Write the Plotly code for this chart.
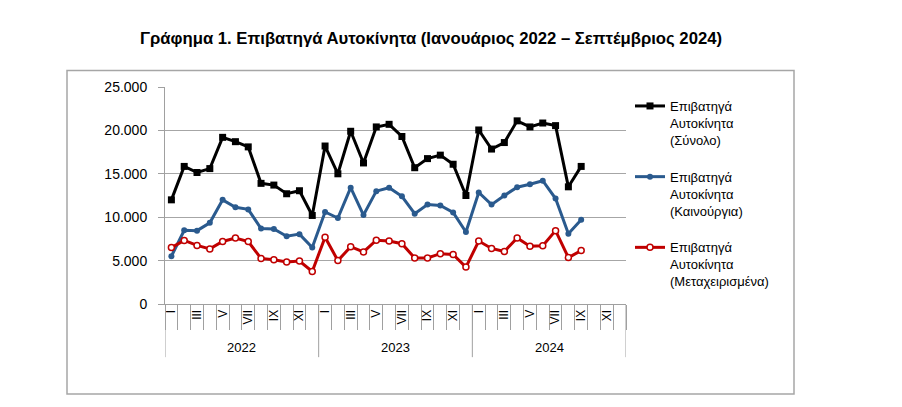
import plotly.graph_objects as go

years = ["2022", "2023", "2024"]
months = ["I", "II", "III", "IV", "V", "VI", "VII", "VIII", "IX", "X", "XI", "XII"]
shown_months = ["I", "III", "V", "VII", "IX", "XI"]

total = [12000, 15850, 15150, 15600, 19200, 18700, 18100, 13900, 13700, 12700, 13050, 10200,
         18200, 15000, 19900, 16250, 20400, 20700, 19300, 15700, 16750, 17150, 16100, 12500,
         20050, 17850, 18600, 21100, 20400, 20850, 20550, 13500, 15850]
new = [5500, 8500, 8450, 9350, 12000, 11150, 10900, 8700, 8650, 7800, 8050, 6500,
       10600, 9900, 13400, 10250, 13000, 13400, 12400, 10400, 11450, 11350, 10550, 8300,
       12850, 11450, 12500, 13450, 13800, 14200, 12150, 8100, 9700]
used = [6500, 7330, 6750, 6350, 7200, 7600, 7200, 5250, 5100, 4850, 4950, 3750,
        7700, 5000, 6600, 6000, 7350, 7250, 6950, 5300, 5300, 5800, 5700, 4250,
        7250, 6400, 6050, 7600, 6650, 6700, 8450, 5350, 6150]

names = ["Επιβατηγά<br>Αυτοκίνητα<br>(Σύνολο)",
         "Επιβατηγά<br>Αυτοκίνητα<br>(Καινούργια)",
         "Επιβατηγά<br>Αυτοκίνητα<br>(Μεταχειρισμένα)"]
title = "Γράφημα 1. Επιβατηγά Αυτοκίνητα (Ιανουάριος 2022 – Σεπτέμβριος 2024)"
y_ticks = [0, 5000, 10000, 15000, 20000, 25000]

cats = [f"{y}-{m}" for y in years for m in months]
tick_text = [m if m in shown_months else "" for y in years for m in months]

FONT = "Liberation Sans"

fig = go.Figure()
fig.add_trace(go.Scatter(x=cats[:len(total)], y=total, name=names[0], mode="lines+markers",
                         line=dict(color="#000000", width=3),
                         marker=dict(symbol="square", size=7, color="#000000"),
                         legendgroup="a"))
fig.add_trace(go.Scatter(x=cats[:len(new)], y=new, name=names[1], mode="lines+markers",
                         line=dict(color="#2A5A8E", width=3),
                         marker=dict(symbol="circle", size=6, color="#2A5A8E"),
                         legendgroup="b"))
fig.add_trace(go.Scatter(x=cats[:len(used)], y=used, name=names[2], mode="lines+markers",
                         line=dict(color="#C00000", width=3),
                         marker=dict(symbol="circle", size=6, color="#FFFFFF",
                                     line=dict(color="#C00000", width=1.5)),
                         legendgroup="c"))

# year separators and labels
n_m = len(months)
for i in range(len(years) + 1):
    fig.add_shape(type="line", xref="x", yref="paper", x0=i * n_m - 0.5, x1=i * n_m - 0.5,
                  y0=0, y1=-0.245, line=dict(color="#A0A0A0", width=1))
for i, y in enumerate(years):
    fig.add_annotation(x=i * n_m + (n_m - 1) / 2, y=-0.20, xref="x", yref="paper",
                       text=y, showarrow=False, font=dict(family=FONT, size=13, color="#000000"),
                       yanchor="middle")

# outer frame
L, R, T, B = 165, 626, 87, 304
def px(xp):
    return (xp - L) / (R - L)
def py(yp):
    return (B - yp) / (B - T)
fig.add_shape(type="rect", xref="paper", yref="paper", x0=px(67), x1=px(794),
              y0=py(394), y1=py(70.5), line=dict(color="#A6A6A6", width=1.5), layer="below")

fig.update_layout(
    width=902, height=407,
    margin=dict(l=L, r=902 - R, t=T, b=407 - B),
    paper_bgcolor="white", plot_bgcolor="white",
    separators=",.",
    title=dict(text="<b>" + title + "</b>", x=431 / 902, xanchor="center", y=1 - 38 / 407,
               yanchor="middle", xref="container", yref="container",
               font=dict(family=FONT, size=16.7, color="#000000")),
    font=dict(family=FONT, color="#000000"),
    showlegend=True,
    legend=dict(x=px(630), xanchor="left", y=py(91), yanchor="top", valign="top",
                font=dict(family=FONT, size=13, color="#000000"),
                tracegroupgap=17, bgcolor="rgba(0,0,0,0)"),
    xaxis=dict(type="category", categoryorder="array", categoryarray=cats,
               tickmode="array", tickvals=cats, ticktext=tick_text,
               range=[-0.5, len(cats) - 0.5], tickson="boundaries",
               ticks="outside", ticklen=25, tickcolor="#A0A0A0", tickwidth=1,
               tickangle=-90, tickfont=dict(family=FONT, size=12, color="#000000"),
               showline=True, linecolor="#A0A0A0", linewidth=1,
               showgrid=False, zeroline=False),
    yaxis=dict(range=[0, 25000], tickmode="array", tickvals=y_ticks, tickformat=",d",
               ticks="outside", ticklen=6, tickcolor="#A0A0A0",
               showline=True, linecolor="#A0A0A0", linewidth=1,
               showgrid=True, gridcolor="#A6A6A6", gridwidth=1.3, zeroline=False,
               tickfont=dict(family=FONT, size=14, color="#000000"), ticklabelstandoff=8),
)

fig.write_html("out.html")
